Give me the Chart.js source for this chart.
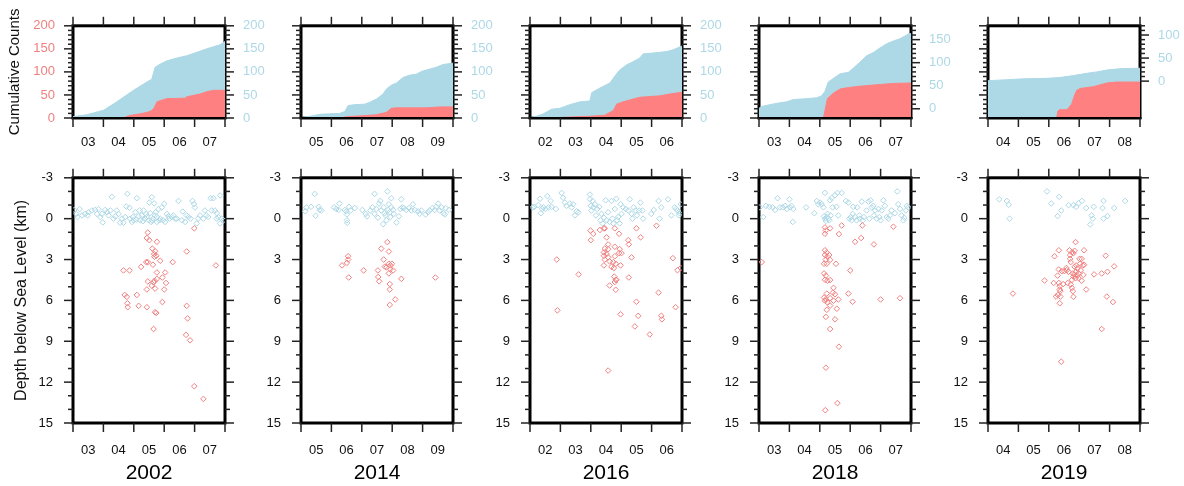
<!DOCTYPE html>
<html lang="en">
<head>
<meta charset="UTF-8">
<title>Cumulative Counts and Depth by Year</title>
<script src="https://cdn.jsdelivr.net/npm/chart.js"></script>
<style>
    body {
        margin: 0;
        background: #fff;
        width: 1184px;
        height: 486px;
        position: relative;
        overflow: hidden;
    }
    canvas {
        position: absolute;
    }
</style>
</head>
<body>
<script>
// ---- layout / axes ----
const years = ['2002', '2014', '2016', '2018', '2019'];
const firstMonth = [3, 5, 2, 3, 4];
const plotLeft = [73, 301, 530, 759, 988];
const countTicks = [0, 50, 100, 150, 200];
const depthTicks = [-3, 0, 3, 6, 9, 12, 15];
const blueAxisRange = [[0, 200], [0, 200], [0, 200], [-20, 180], [-80, 120]];
const blueAxisTicks = [[0, 50, 100, 150, 200], [0, 50, 100, 150, 200], [0, 50, 100, 150, 200], [0, 50, 100, 150], [0, 50, 100]];

// ---- cumulative counts, [month, count] ----
const blueCum2002 = [[3.0,3],[3.46,7],[4.01,17],[4.44,35],[4.99,60],[5.43,78],[5.59,84],[5.70,110],[5.87,117],[6.09,124],[6.41,130],[6.74,135],[6.96,140],[7.40,150],[7.84,159],[8.0,166]];
const redCum2002 = [[3,0],[4.66,0],[4.83,5],[5.21,9],[5.43,12],[5.59,16],[5.67,22],[5.76,35],[5.98,40],[6.09,42],[6.69,43],[6.74,46],[7.18,52],[7.40,57],[7.62,60],[8.0,60]];
const blueCum2014 = [[5.0,1],[5.18,3],[5.34,4],[5.61,8],[5.94,9],[6.27,10],[6.44,14],[6.55,27],[6.77,29],[7.09,30],[7.26,34],[7.48,41],[7.70,52],[7.81,63],[7.97,71],[8.14,76],[8.36,88],[8.57,93],[8.79,95],[8.96,101],[9.12,104],[9.45,110],[9.67,116],[10.0,119]];
const redCum2014 = [[5,0],[6.27,0],[6.55,3],[7.04,5],[7.48,7],[7.59,9],[7.81,12],[7.97,21],[8.14,22],[9.12,22],[9.56,24],[10,24]];
const blueCum2016 = [[2,1],[2.22,4],[2.44,9],[2.71,19],[2.98,21],[3.31,29],[3.64,35],[3.97,37],[4.03,55],[4.30,65],[4.63,76],[4.79,91],[4.95,104],[5.17,115],[5.39,122],[5.61,130],[5.72,139],[6.05,141],[6.49,144],[6.71,148],[7.0,156]];
const redCum2016 = [[2,0],[2.88,0],[2.93,1],[3.64,3],[4.02,4],[4.46,6],[4.74,16],[4.85,30],[5.06,35],[5.39,41],[5.61,45],[5.83,46],[6.27,48],[6.60,52],[7.0,56]];
const blueCum2018 = [[3,1],[3.09,5],[3.36,9],[3.69,13],[3.91,15],[4.13,20],[4.57,22],[4.90,24],[5.06,28],[5.17,38],[5.28,58],[5.45,66],[5.67,76],[5.94,79],[6.10,88],[6.32,101],[6.54,115],[6.76,122],[6.98,132],[7.20,141],[7.42,147],[7.64,152],[7.86,160],[7.91,163],[8,163]];
const redCum2018 = [[3,0],[5.12,0],[5.17,16],[5.25,42],[5.45,54],[5.67,63],[5.94,66],[6.32,69],[6.87,72],[7.42,75],[8,76]];
const blueCum2019 = [[4,1],[4.62,3],[5.17,5],[5.94,6],[6.37,8],[6.81,12],[7.25,17],[7.58,20],[7.91,24],[8.34,27],[9,28]];
const redCum2019 = [[4,0],[6.26,1],[6.30,15],[6.35,18],[6.60,18],[6.75,30],[6.85,50],[6.92,60],[7.03,64],[7.47,68],[7.80,74],[7.91,76],[8.23,78],[9,78]];

// ---- events, [month, depth km] ----
const bluePts2002 = [[3.04,-0.64],[3.11,-0.35],[3.22,-0.7],[3.30,-0.24],[3.40,-0.35],[3.51,-0.47],[3.62,-0.6],[3.73,-0.64],[3.84,-0.7],[3.95,-0.35],[3.98,0.28],[4.06,-0.64],[4.12,-0.47],[4.17,-0.24],[4.28,-1.6],[4.33,0],[4.44,-0.6],[4.50,-0.35],[4.55,0.3],[4.66,0.3],[4.75,-0.9],[4.79,-1.82],[4.86,-0.8],[4.88,0],[4.97,-0.12],[5.05,-0.47],[5.10,-1.5],[5.16,-0.17],[5.21,0.12],[5.26,-0.24],[5.32,-0.6],[5.37,0],[5.51,-1.18],[5.54,-0.4],[5.59,-1.58],[5.63,0],[5.67,-1.12],[5.70,-0.24],[5.76,0.24],[5.81,-0.7],[5.87,0],[5.92,-0.82],[6.0,-1.1],[6.03,0.24],[6.09,-0.35],[6.17,0],[6.25,-0.12],[6.36,0],[6.47,-1.3],[6.61,-0.52],[6.69,0.24],[6.80,-0.12],[6.87,0],[6.93,-1.3],[6.98,-1.07],[7.01,-0.82],[7.07,0.35],[7.18,-0.24],[7.29,0],[7.34,-0.6],[7.45,-0.12],[7.53,-1.5],[7.62,-1.5],[7.67,-0.6],[7.73,-0.4],[7.78,-0.12],[7.84,-1.7],[7.89,0],[7.95,0.12],[7.84,0.35],[5.0,0.12],[5.43,-0.12],[5.49,0.12],[5.57,0.24],[5.76,-0.12],[5.96,0.12],[6.3,-0.24],[3.15,-0.12],[3.48,-0.24],[3.79,-0.35],[3.9,-0.12],[4.23,-0.6],[4.39,-0.17],[4.61,0],[4.72,-0.12],[4.94,0.24],[5.08,0.07],[5.19,-0.6],[5.3,0.19],[5.41,-0.35],[5.6,0.12],[5.72,-0.47],[5.84,0.12],[6.14,-0.17],[6.41,0],[6.58,0.12],[6.74,-0.24],[7.12,0],[7.39,-0.24],[7.56,-0.6],[7.73,0]];
const redPts2002 = [[5.46,1.02],[5.43,1.42],[5.51,1.58],[5.76,1.70],[5.61,2.2],[5.70,2.39],[5.67,2.6],[5.74,2.72],[5.68,2.79],[5.87,3.09],[5.41,3.19],[5.46,3.19],[6.28,3.19],[5.63,3.38],[6.74,2.41],[5.76,3.95],[6.03,3.95],[4.66,3.80],[4.86,3.80],[5.24,3.54],[5.94,4.32],[5.76,4.42],[5.68,4.56],[5.65,4.68],[5.46,4.61],[6.06,4.72],[5.59,4.91],[5.70,5.13],[5.43,5.2],[6.0,5.2],[5.10,5.6],[4.70,5.6],[4.77,5.74],[4.79,6.21],[4.80,6.5],[5.16,6.4],[5.43,6.5],[5.94,6.12],[5.70,6.87],[5.74,6.92],[5.65,8.1],[6.74,6.4],[6.77,7.32],[6.72,8.53],[6.85,8.93],[6.99,12.3],[7.29,13.23],[7.70,3.43],[6.99,0.71]];
const bluePts2014 = [[5.14,-0.54],[5.18,-0.83],[5.33,-0.87],[5.45,-1.82],[5.48,-0.21],[5.58,-0.87],[5.61,-0.64],[5.67,-0.6],[6.09,-0.83],[6.16,-0.71],[6.24,-0.64],[6.27,-1.11],[6.44,-0.64],[6.49,-0.54],[6.51,-0.31],[6.51,0.12],[6.52,0.31],[6.58,-0.87],[6.63,-0.6],[6.77,-0.78],[7.02,-0.64],[7.13,-0.35],[7.17,-0.17],[7.28,-0.6],[7.35,-0.83],[7.42,-1.82],[7.42,-0.35],[7.48,-0.71],[7.53,-0.07],[7.57,-1.11],[7.61,-1.3],[7.64,-0.6],[7.70,0.4],[7.72,-0.83],[7.75,-0.4],[7.78,-0.24],[7.81,0.12],[7.84,-2.0],[7.87,-0.64],[7.89,-1.06],[7.92,-0.47],[7.94,-0.12],[7.97,-1.5],[7.97,-0.83],[8.03,-0.64],[8.05,-0.35],[8.14,0.28],[8.22,-0.17],[8.27,-0.71],[8.30,-1.42],[8.33,-0.83],[8.38,-0.78],[8.46,-0.64],[8.55,-0.78],[8.63,-0.6],[8.68,-1.06],[8.74,-0.64],[8.85,-0.54],[8.90,-0.35],[8.96,-0.6],[9.10,-0.31],[9.18,-0.47],[9.23,-0.6],[9.32,-0.78],[9.40,-0.64],[9.45,-0.87],[9.51,-1.11],[9.56,-0.6],[9.62,-0.83],[9.69,-0.4],[9.76,-0.78],[9.87,-0.64],[9.73,-0.31]];
const redPts2014 = [[6.55,2.76],[6.55,3.0],[6.51,3.24],[6.35,3.43],[6.57,4.32],[7.06,3.80],[7.53,3.80],[7.54,4.28],[7.57,4.6],[7.64,2.2],[7.72,3.0],[7.76,3.52],[7.84,1.72],[7.89,2.41],[7.89,3.31],[7.94,3.43],[7.99,3.31],[7.94,3.71],[8.03,3.80],[7.89,4.02],[7.92,4.8],[7.92,5.2],[8.10,5.93],[7.92,6.33],[8.30,4.42],[9.42,4.32],[7.81,3.57]];
const bluePts2016 = [[2.09,-0.83],[2.14,-0.87],[2.27,-0.99],[2.33,-1.46],[2.36,-0.4],[2.40,-0.71],[2.44,-0.83],[2.51,-0.71],[2.57,-1.65],[2.61,-0.83],[2.68,-1.3],[2.71,-0.87],[2.85,-0.71],[3.04,-1.89],[3.09,-1.53],[3.15,-1.18],[3.20,-0.94],[3.31,-1.11],[3.37,-0.83],[3.42,-1.06],[3.48,-0.24],[3.53,-0.54],[3.59,-0.47],[3.97,-1.77],[3.97,-1.42],[4.00,-0.94],[4.02,-0.6],[4.06,-1.3],[4.08,-0.83],[4.13,-1.06],[4.17,-0.24],[4.21,-0.71],[4.28,-0.87],[4.32,0.12],[4.35,-0.35],[4.39,0.35],[4.43,-0.07],[4.49,-1.35],[4.52,0.12],[4.57,-0.47],[4.62,0.24],[4.68,-1.3],[4.71,0],[4.74,0.35],[4.79,-0.71],[4.84,-1.46],[4.87,0.12],[4.90,-0.12],[4.95,0.35],[4.98,-1.06],[5.01,-0.35],[5.06,-0.83],[5.15,-0.71],[5.23,-0.6],[5.28,-1.42],[5.34,-0.35],[5.37,0],[5.41,-0.83],[5.48,-0.6],[5.52,-0.24],[5.59,-0.6],[5.63,-1.18],[5.70,-0.6],[5.72,0],[5.99,-0.35],[6.07,-0.64],[6.23,-1.3],[6.32,-0.83],[6.26,0],[6.54,-1.42],[6.65,-0.24],[6.76,-0.83],[6.81,-0.71],[6.86,-0.6],[6.92,-0.4],[6.96,-1.06],[6.90,-0.24]];
const redPts2016 = [[2.88,3.0],[2.90,6.73],[3.60,4.09],[3.99,0.87],[4.08,1.11],[4.00,1.58],[4.43,0.71],[4.46,0.71],[4.52,1.37],[4.57,1.89],[4.46,2.2],[4.57,2.24],[4.43,2.48],[4.52,2.6],[4.43,2.72],[4.57,2.84],[4.46,3.0],[4.62,3.14],[4.43,3.43],[4.68,3.54],[4.79,0.71],[4.79,2.06],[4.79,2.76],[4.74,3.19],[4.82,3.31],[4.76,3.62],[4.93,1.11],[4.95,2.24],[4.93,2.53],[5.01,2.53],[4.98,3.43],[4.77,4.25],[4.82,4.49],[4.79,4.65],[4.84,4.49],[4.62,4.91],[4.82,5.22],[4.57,11.15],[4.98,7.02],[5.23,1.58],[5.25,1.89],[5.25,4.32],[5.34,2.84],[5.50,0.71],[5.64,1.37],[5.50,6.1],[5.56,7.13],[5.45,7.91],[5.94,8.5],[6.23,5.43],[6.32,7.13],[6.34,7.39],[6.16,0.52],[6.70,2.9],[6.85,3.78],[6.96,3.62],[6.79,6.5],[4.30,0.83]];
const bluePts2018 = [[3.03,-0.83],[3.14,-0.12],[3.23,-0.94],[3.34,-0.87],[3.45,-0.83],[3.53,-0.64],[3.61,-1.5],[3.69,-0.83],[3.78,-0.83],[3.86,-0.94],[3.91,-0.71],[4.0,-1.42],[4.02,-0.83],[4.07,-0.94],[4.11,0.24],[4.13,-0.71],[4.55,-0.83],[4.82,-0.4],[4.90,-1.3],[4.95,-1.06],[5.01,-1.18],[5.06,-1.06],[5.12,-0.83],[5.14,-0.17],[5.17,-1.89],[5.17,0],[5.20,0.17],[5.23,-0.12],[5.25,-0.35],[5.28,0],[5.31,0.12],[5.34,-1.35],[5.36,-0.24],[5.39,-1.53],[5.42,-0.83],[5.50,-1.72],[5.55,-0.87],[5.58,-1.89],[5.61,-0.24],[5.72,-1.89],[5.86,-1.3],[5.94,-1.18],[5.97,0],[6.02,-0.12],[6.05,0.12],[6.08,-0.35],[6.10,-0.87],[6.16,-0.12],[6.21,0.12],[6.23,-0.83],[6.30,-0.24],[6.32,0],[6.38,-1.25],[6.41,0.12],[6.45,-0.12],[6.54,-0.6],[6.60,-1.25],[6.63,0],[6.67,-1.35],[6.71,-0.83],[6.76,-0.94],[6.78,-0.24],[6.82,-0.6],[6.87,0],[6.93,-0.71],[6.96,-0.12],[7.0,0.12],[7.04,-0.6],[7.09,-1.35],[7.14,-0.94],[7.20,-0.12],[7.25,0],[7.31,-0.24],[7.36,-0.6],[7.47,-0.4],[7.55,-2.0],[7.58,-1.06],[7.64,-0.71],[7.69,-0.24],[7.75,0.12],[7.78,-0.07],[7.83,-0.6],[7.86,-0.94],[7.91,-0.83]];
const redPts2018 = [[3.09,3.19],[5.17,0.64],[5.20,0.87],[5.17,1.11],[5.34,0.71],[5.72,0.5],[5.63,1.13],[6.16,1.7],[6.36,1.42],[6.78,1.89],[7.42,0.59],[6.40,0.5],[5.17,2.32],[5.23,2.48],[5.17,2.67],[5.25,2.79],[5.20,3.0],[5.31,2.67],[5.34,3.02],[5.14,3.31],[5.23,3.31],[5.53,3.31],[6.0,3.80],[5.14,4.02],[5.20,4.18],[5.17,4.49],[5.25,4.56],[5.34,4.51],[5.45,5.08],[5.43,5.43],[5.50,5.55],[5.23,5.5],[5.14,5.79],[5.20,5.93],[5.17,6.02],[5.25,6.14],[5.34,5.84],[5.45,6.02],[5.61,5.93],[5.34,6.38],[5.23,6.69],[5.20,7.21],[5.56,6.61],[5.50,7.39],[5.34,8.1],[5.94,5.5],[6.08,6.1],[7.0,5.93],[7.64,5.84],[5.63,9.4],[5.20,10.94],[5.58,13.54],[5.18,14.06]];
const bluePts2019 = [[4.37,-1.42],[4.62,-1.3],[4.68,-1.02],[4.71,0],[5.94,-2.0],[6.08,-1.11],[6.34,-1.6],[6.29,-0.19],[6.41,-0.6],[6.65,-0.99],[6.81,-0.99],[6.90,-0.87],[6.98,-1.13],[7.09,-1.3],[7.23,-0.78],[7.41,-0.24],[7.45,0],[7.36,0.43],[7.48,-0.87],[7.80,-1.3],[7.77,-0.78],[7.80,0],[7.93,-0.19],[8.15,-0.78],[8.51,-1.3]];
const redPts2019 = [[4.82,5.5],[5.86,4.54],[6.16,4.72],[6.19,2.76],[6.29,4.18],[6.33,2.32],[6.33,3.73],[6.24,5.72],[6.30,5.6],[6.33,4.72],[6.36,4.96],[6.36,5.2],[6.38,5.72],[6.36,6.21],[6.41,10.5],[6.38,5.32],[6.59,3.78],[6.65,3.9],[6.68,2.32],[6.70,2.67],[6.70,2.95],[6.72,3.19],[6.76,2.48],[6.81,2.53],[6.79,4.02],[6.81,4.25],[6.83,4.09],[6.76,4.49],[6.72,4.84],[6.76,5.08],[6.79,5.32],[6.81,5.74],[6.62,4.72],[6.85,2.36],[6.88,1.72],[6.85,3.54],[6.90,3.43],[6.94,3.66],[6.90,3.9],[6.94,4.18],[6.88,4.37],[6.98,4.02],[6.98,4.37],[7.01,2.95],[7.03,3.31],[7.05,3.78],[7.08,2.95],[7.12,3.43],[7.16,3.38],[7.16,2.32],[7.14,4.13],[7.08,4.56],[7.23,5.2],[7.49,4.09],[7.74,4.02],[7.87,2.72],[7.93,3.9],[8.15,3.5],[7.91,5.72],[8.11,6.12],[7.74,8.1],[6.43,3.85],[6.51,3.85],[6.58,3.62],[6.47,4.8]];

const blueCum = [blueCum2002, blueCum2014, blueCum2016, blueCum2018, blueCum2019];
const redCum = [redCum2002, redCum2014, redCum2016, redCum2018, redCum2019];
const bluePts = [bluePts2002, bluePts2014, bluePts2016, bluePts2018, bluePts2019];
const redPts = [redPts2002, redPts2014, redPts2016, redPts2018, redPts2019];

const BLUE = '#ADD8E6';
const RED_FILL = '#FF8080';
const RED = '#F08080';
const FONT = '"Liberation Sans", Arial, sans-serif';
const PLOT_W = 152;

// frame with outward major/minor ticks on all four sides
const frameTicks = {
    id: 'frameTicks',
    beforeDatasetsDraw(chart) {
        const { ctx, chartArea: a } = chart;
        ctx.save();
        ctx.lineWidth = 3;
        ctx.strokeStyle = '#000';
        ctx.strokeRect(a.left, a.top, a.width, a.height);
        ctx.restore();
    },
    afterDraw(chart, args, o) {
        const { ctx, chartArea: a, scales } = chart;
        const line = (x1, y1, x2, y2) => {
            ctx.beginPath(); ctx.moveTo(x1, y1); ctx.lineTo(x2, y2); ctx.stroke();
        };
        ctx.save();
        if (o.bottomLine) {
            ctx.lineWidth = 2;
            ctx.strokeStyle = '#000';
            line(a.left - 1.5, a.bottom, a.right + 1.5, a.bottom);
        }
        ctx.lineWidth = 1.5;
        ctx.strokeStyle = '#222';
        const xs = scales.x;
        for (let m = xs.min; m <= xs.max; m++) {
            const x = xs.getPixelForValue(m);
            line(x, a.top - 9, x, a.top);
            line(x, a.bottom, x, a.bottom + 9);
        }
        const side = (s, x0, dir) => {
            const scale = scales[s.id];
            for (let v = s.lo; v <= s.hi + 1e-9; v += s.minor) {
                const y = scale.getPixelForValue(v);
                const len = Math.abs(v % s.major) < 1e-9 ? 9 : 5;
                line(x0, y, x0 + dir * len, y);
            }
        };
        side(o.left, a.left, -1);
        side(o.right, a.right, 1);
        ctx.restore();
    }
};

function pad2(v) {
    return String(v).padStart(2, '0');
}

function makeCanvas(left, top, w, h) {
    const c = document.createElement('canvas');
    c.width = w;
    c.height = h;
    c.style.left = left + 'px';
    c.style.top = top + 'px';
    document.body.appendChild(c);
    return c;
}

function monthAxis(m0, labelPad, height, title) {
    return {
        type: 'linear',
        position: 'bottom',
        min: m0,
        max: m0 + 5,
        afterBuildTicks: s => { s.ticks = [0, 1, 2, 3, 4, 5].map(k => ({ value: m0 + k })); },
        afterFit: s => { s.height = height; },
        grid: { display: false, drawTicks: false },
        border: { display: false },
        ticks: {
            padding: labelPad,
            labelOffset: PLOT_W / 10,
            maxRotation: 0,
            autoSkip: false,
            color: '#111',
            font: { family: FONT, size: 13 },
            callback: v => (v < m0 + 5 ? pad2(v) : '')
        },
        title: title
    };
}

years.forEach((year, i) => {
    const L = plotLeft[i];
    const m0 = firstMonth[i];
    const [bMin, bMax] = blueAxisRange[i];

    // ---- top: cumulative counts ----
    new Chart(makeCanvas(L - 70, 0, 70 + PLOT_W + 55, 150), {
        type: 'line',
        data: {
            datasets: [
                { data: redCum[i], yAxisID: 'y', fill: 'start', backgroundColor: RED_FILL, borderColor: RED_FILL, borderWidth: 1, pointRadius: 0 },
                { data: blueCum[i], yAxisID: 'y2', fill: 'start', backgroundColor: BLUE, borderColor: BLUE, borderWidth: 1, pointRadius: 0 }
            ]
        },
        options: {
            responsive: false,
            animation: false,
            devicePixelRatio: 1,
            layout: { padding: { top: 16 } },
            plugins: {
                legend: { display: false },
                tooltip: { enabled: false },
                frameTicks: {
                    bottomLine: true,
                    left: { id: 'y', lo: 0, hi: 200, major: 50, minor: 10 },
                    right: { id: 'y2', lo: 0, hi: bMax, major: 50, minor: 10 }
                }
            },
            scales: {
                x: monthAxis(m0, 17, 32, { display: false }),
                y: {
                    position: 'left',
                    min: 0,
                    max: 200,
                    afterBuildTicks: s => { s.ticks = countTicks.map(v => ({ value: v })); },
                    afterFit: s => { s.width = 70; },
                    grid: { display: false, drawTicks: false },
                    border: { display: false },
                    ticks: { display: i === 0, padding: 18, color: RED, font: { family: FONT, size: 13 } },
                    title: {
                        display: i === 0,
                        text: 'Cumulative Counts',
                        color: '#111',
                        font: { family: FONT, size: 15 },
                        padding: { top: 3, bottom: 0 }
                    }
                },
                y2: {
                    position: 'right',
                    min: bMin,
                    max: bMax,
                    afterBuildTicks: s => { s.ticks = blueAxisTicks[i].map(v => ({ value: v })); },
                    afterFit: s => { s.width = 55; },
                    grid: { display: false, drawTicks: false },
                    border: { display: false },
                    ticks: { padding: 18, color: BLUE, font: { family: FONT, size: 13 } }
                }
            }
        },
        plugins: [frameTicks]
    });

    // ---- bottom: depth vs time ----
    new Chart(makeCanvas(L - 70, 150, 70 + PLOT_W + 55, 340), {
        type: 'scatter',
        data: {
            datasets: [
                { data: redPts[i], pointStyle: 'rectRot', radius: 2.8, borderWidth: 1, borderColor: RED, backgroundColor: 'rgba(0,0,0,0)' },
                { data: bluePts[i], pointStyle: 'rectRot', radius: 2.8, borderWidth: 1, borderColor: BLUE, backgroundColor: 'rgba(0,0,0,0)' }
            ]
        },
        options: {
            responsive: false,
            animation: false,
            devicePixelRatio: 1,
            layout: { padding: { top: 19, right: 55 } },
            plugins: {
                legend: { display: false },
                tooltip: { enabled: false },
                frameTicks: {
                    bottomLine: false,
                    left: { id: 'y', lo: -3, hi: 15, major: 3, minor: 1 },
                    right: { id: 'y', lo: -3, hi: 15, major: 3, minor: 1 }
                }
            },
            scales: {
                x: monthAxis(m0, 20, 67, {
                    display: true,
                    text: year,
                    color: '#000',
                    font: { family: FONT, size: 21 },
                    padding: { top: 0, bottom: 4 }
                }),
                y: {
                    position: 'left',
                    reverse: true,
                    min: -3,
                    max: 15,
                    afterBuildTicks: s => { s.ticks = depthTicks.map(v => ({ value: v })); },
                    afterFit: s => { s.width = 70; },
                    grid: { display: false, drawTicks: false },
                    border: { display: false },
                    ticks: { padding: 20, color: '#111', font: { family: FONT, size: 13 } },
                    title: {
                        display: i === 0,
                        text: 'Depth below Sea Level (km)',
                        color: '#111',
                        font: { family: FONT, size: 16 },
                        padding: { top: 9, bottom: 0 }
                    }
                }
            }
        },
        plugins: [frameTicks]
    });
});
</script>
</body>
</html>
